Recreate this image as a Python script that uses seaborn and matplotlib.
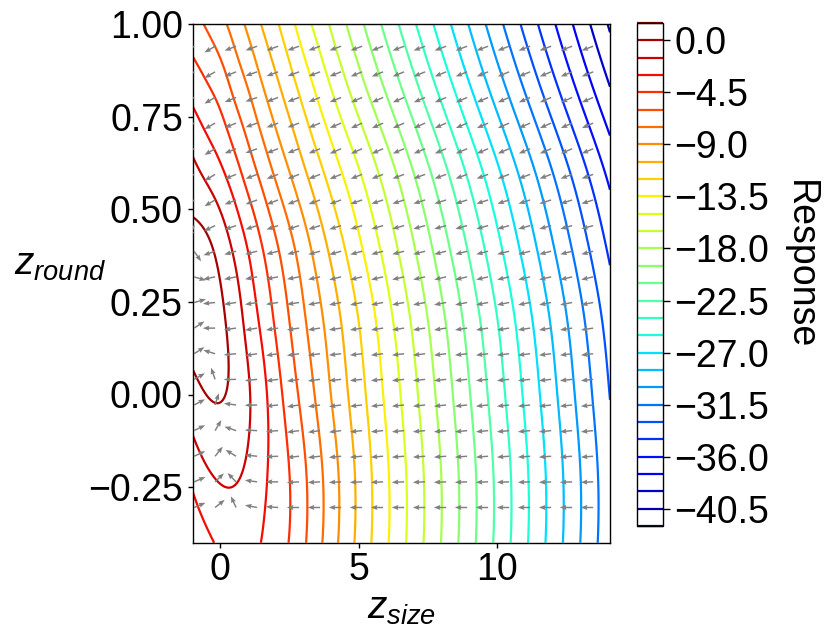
import numpy as np
import matplotlib
matplotlib.use("Agg")
import matplotlib.pyplot as plt
import seaborn as sns

# response surface (rows = z_round, columns = z_size)
z_size = [-1.0, -0.5, 0.0, 0.5, 1.0, 1.5, 2.0, 2.5, 3.0, 3.5, 4.0, 5.0, 6.0, 8.0, 10.0, 12.0, 14.1]
z_round = [-0.4, -0.2, 0.0, 0.2, 0.4, 0.6, 0.8, 1.0]
response = [
    [-4.24, -3.39, -2.76, -2.55, -2.64, -3.04, -3.79, -4.56, -5.74, -7.00, -8.32, -10.87, -13.28, -18.04, -22.80, -27.56, -32.56],
    [-2.40, -1.57, -1.18, -1.21, -1.72, -2.60, -3.53, -4.52, -5.74, -7.00, -8.31, -10.85, -13.28, -18.04, -22.80, -27.56, -32.56],
    [-0.50, 0.01, 0.09, -0.33, -1.32, -2.51, -3.84, -5.19, -6.47, -7.73, -9.00, -11.38, -13.76, -18.52, -23.28, -28.04, -33.04],
    [0.62, 0.66, 0.27, -0.64, -2.00, -3.31, -4.70, -6.01, -7.27, -8.47, -9.65, -12.00, -14.40, -19.16, -23.92, -28.68, -33.68],
    [0.47, 0.28, -0.57, -1.78, -3.10, -4.46, -5.78, -7.05, -8.32, -9.60, -10.83, -13.21, -15.56, -20.32, -25.08, -29.84, -34.84],
    [-1.06, -1.85, -2.71, -3.84, -5.15, -6.45, -7.75, -8.98, -10.23, -11.43, -12.60, -14.86, -17.16, -21.92, -26.68, -31.44, -36.44],
    [-3.25, -4.02, -4.84, -6.05, -7.24, -8.56, -9.81, -11.03, -12.27, -13.50, -14.71, -17.06, -19.38, -24.14, -28.90, -33.66, -38.66],
    [-5.45, -6.17, -7.05, -8.09, -9.33, -10.57, -11.74, -12.98, -14.29, -15.48, -16.67, -19.05, -21.43, -26.19, -30.95, -35.71, -40.71],
]
levels = np.arange(-42.0, 3.0, 1.5)
cbar_ticks = np.arange(-40.5, 0.1, 4.5)

sns.set_style("ticks")
plt.rcParams["font.family"] = ["Liberation Sans", "DejaVu Sans"]
plt.rcParams["mathtext.fontset"] = "custom"
plt.rcParams["mathtext.it"] = "Liberation Sans:italic"
plt.rcParams["mathtext.rm"] = "Liberation Sans"
for k in ["axes.edgecolor", "text.color", "axes.labelcolor", "xtick.color", "ytick.color"]:
    plt.rcParams[k] = "black"
plt.rcParams["axes.linewidth"] = 1.0


def spline_weights(xn, xe):
    # cubic spline through nodes xn (parabolic run-out ends), as a matrix on node values
    xn = np.asarray(xn, float)
    xe = np.asarray(xe, float)
    n = len(xn)
    h = np.diff(xn)
    A = np.zeros((n, n))
    B = np.zeros((n, n))
    A[0, 0], A[0, 1] = 1.0, -1.0
    A[-1, -1], A[-1, -2] = 1.0, -1.0
    for i in range(1, n - 1):
        A[i, i - 1] = h[i - 1] / 6
        A[i, i] = (h[i - 1] + h[i]) / 3
        A[i, i + 1] = h[i] / 6
        B[i, i - 1] = 1 / h[i - 1]
        B[i, i] = -1 / h[i - 1] - 1 / h[i]
        B[i, i + 1] = 1 / h[i]
    Mw = np.linalg.solve(A, B)
    idx = np.clip(np.searchsorted(xn, xe) - 1, 0, n - 2)
    hh = xn[idx + 1] - xn[idx]
    a = (xn[idx + 1] - xe) / hh
    b = (xe - xn[idx]) / hh
    W = np.zeros((len(xe), n))
    rows = np.arange(len(xe))
    W[rows, idx] += a
    W[rows, idx + 1] += b
    W += ((a**3 - a)[:, None] * Mw[idx] + (b**3 - b)[:, None] * Mw[idx + 1]) * (hh**2 / 6)[:, None]
    return W


Z = np.array(response)


def surface(xe, ye):
    return spline_weights(z_round, ye) @ Z @ spline_weights(z_size, xe).T


xf = np.linspace(-1.0, 14.1, 400)
yf = np.linspace(-0.4, 1.0, 300)
XX, YY = np.meshgrid(xf, yf)
ZZ = surface(xf, yf)

# arrow grid and gradient direction (grid steps as units)
xq = np.linspace(-0.95, 13.49, 20)
yq = np.linspace(-0.305, 0.94, 19)
XQ, YQ = np.meshgrid(xq, yq)
hx, hy = 0.01, 0.001
u = (surface(xq + hx, yq) - surface(xq - hx, yq)) / (2 * hx) * (xq[1] - xq[0])
v = (surface(xq, yq + hy) - surface(xq, yq - hy)) / (2 * hy) * (yq[1] - yq[0])
norm = np.hypot(u, v)
norm[norm == 0] = 1.0
u, v = u / norm, v / norm

fig = plt.figure(figsize=(8.3, 6.42), dpi=100)
ax = fig.add_axes([192.7 / 830, 1 - 542.7 / 642, 417.3 / 830, 518.7 / 642])
cax = fig.add_axes([637 / 830, 1 - 526 / 642, 26 / 830, 503 / 642])

cs = ax.contour(XX, YY, ZZ, levels=levels, cmap="jet", linewidths=1.6)
ax.quiver(XQ, YQ, u, v, color="grey", pivot="tail", angles="uv",
          scale=34, width=0.0035, headwidth=3.5, headlength=4.5,
          headaxislength=4, zorder=3)

ax.set_xlim(-1.0, 14.1)
ax.set_ylim(-0.4, 1.0)
ax.set_xticks([0, 5, 10])
ax.set_yticks([-0.25, 0.0, 0.25, 0.5, 0.75, 1.0])
ax.tick_params(labelsize=27, length=3.5, width=1, pad=3.5)

ax.set_xlabel("$z_{size}$", fontsize=28, va="center")
ax.xaxis.set_label_coords(0.5, -0.128)
ax.set_ylabel("$z_{round}$", fontsize=28, rotation=0, ha="center", va="center")
ax.yaxis.set_label_coords(-0.318, 0.536)

cbar = fig.colorbar(cs, cax=cax)
cbar.set_ticks(cbar_ticks)
cbar.ax.tick_params(labelsize=27, length=5, width=1, pad=3)
cbar.set_label("Response", fontsize=27, rotation=270, va="center")
cbar.ax.yaxis.set_label_coords(6.27, 0.52)
cbar.outline.set_edgecolor("black")

plt.savefig("out.png", dpi=100)
